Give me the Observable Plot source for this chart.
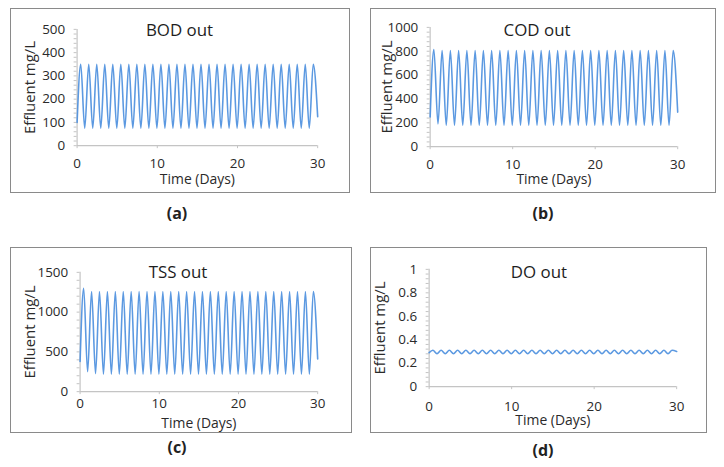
<!DOCTYPE html>
<html>
<head>
<meta charset="utf-8">
<script src="https://cdn.jsdelivr.net/npm/d3@7"></script>
<script src="https://cdn.jsdelivr.net/npm/@observablehq/plot@0.6"></script>
<style>
  body { margin: 0; background: #fff; font-family: "Open Sans", sans-serif; }
  #wrap { position: relative; width: 724px; height: 467px; background: #fff; overflow: hidden; }
  .box { position: absolute; border: 1.5px solid #8a8a8a; box-sizing: border-box; }
  .box svg { position: absolute; left: 0; top: 0; }
  .tag { position: absolute; font-weight: bold; font-size: 16px; color: #222; transform: translate(-50%, -50%); }
</style>
</head>
<body>
<div id="wrap"></div>
<script>
// Shared timeline of peaks / troughs (days)
const times = [0,
  0.45,0.95, 1.45,1.95, 2.45,2.95, 3.45,3.95, 4.45,4.95, 5.45,5.95, 6.45,6.95, 7.45,7.95, 8.45,8.95, 9.45,9.95,
  10.45,10.95, 11.45,11.95, 12.45,12.95, 13.45,13.95, 14.45,14.95, 15.45,15.95, 16.45,16.95, 17.45,17.95, 18.45,18.95, 19.45,19.95,
  20.45,20.95, 21.45,21.95, 22.45,22.95, 23.45,23.95, 24.45,24.95, 25.45,25.95, 26.45,26.95, 27.45,27.95, 28.45,28.95,
  29.45, 30];

const bodOut = [100,
  350,75, 350,75, 350,75, 350,75, 350,75, 350,75, 350,75, 350,75, 350,75, 350,75,
  350,75, 350,75, 350,75, 350,75, 350,75, 350,75, 350,75, 350,75, 350,75, 350,75,
  350,75, 350,75, 350,75, 350,75, 350,75, 350,75, 350,75, 350,75, 350,75,
  350, 125];

const codOut = [250,
  815,190, 805,180, 805,180, 805,180, 805,180, 805,180, 805,180, 805,180, 805,180, 805,180,
  805,180, 805,180, 805,180, 805,180, 805,180, 805,180, 805,180, 805,180, 805,180, 805,180,
  805,180, 805,180, 805,180, 805,180, 805,180, 805,180, 805,180, 805,180, 805,180,
  805, 290];

const tssOut = [380,
  1300,250, 1260,225, 1260,220, 1260,220, 1260,220, 1260,220, 1260,220, 1260,220, 1260,220, 1260,220,
  1260,220, 1260,220, 1260,220, 1260,220, 1260,220, 1260,220, 1260,220, 1260,220, 1260,220, 1260,220,
  1260,220, 1260,220, 1260,220, 1260,220, 1260,220, 1260,220, 1260,220, 1260,220, 1260,220,
  1260, 410];

const doOut = [0.29,
  0.31,0.28, 0.31,0.28, 0.31,0.28, 0.31,0.28, 0.31,0.28, 0.31,0.28, 0.31,0.28, 0.31,0.28, 0.31,0.28, 0.31,0.28,
  0.31,0.28, 0.31,0.28, 0.31,0.28, 0.31,0.28, 0.31,0.28, 0.31,0.28, 0.31,0.28, 0.31,0.28, 0.31,0.28, 0.31,0.28,
  0.31,0.28, 0.31,0.28, 0.31,0.28, 0.31,0.28, 0.31,0.28, 0.31,0.28, 0.31,0.28, 0.31,0.28, 0.31,0.28,
  0.31, 0.30];

const xTicks = [0, 10, 20, 30];
const bodTicks = [0, 100, 200, 300, 400, 500];
const codTicks = [0, 200, 400, 600, 800, 1000];
const tssTicks = [0, 500, 1000, 1500];
const doTicks = [0, 0.2, 0.4, 0.6, 0.8, 1];
const bodMinor = d3.range(0, 501, 20);
const codMinor = d3.range(0, 1001, 40);
const tssMinor = d3.range(0, 1501, 100);
const doMinor = d3.range(0, 1.001, 0.04);

const titles = ["BOD out", "COD out", "TSS out", "DO out"];
const tags = ["(a)", "(b)", "(c)", "(d)"];
const yLabel = "Effluent mg/L";
const xLabel = "Time (Days)";

const panels = [
  {vals: bodOut, ticks: bodTicks, minor: bodMinor, max: 500, box: [10, 8, 340, 185], m: [21, 31, 47, 67], tdx: -18, tdy: 1, ydx: -47, xdy: 34, tp: 10, tag: [177, 213]},
  {vals: codOut, ticks: codTicks, minor: codMinor, max: 1000, box: [370, 8, 346, 185], m: [19, 37, 46, 60], tdx: -17, tdy: 3, ydx: -43, xdy: 33, tp: 10, tag: [543, 213]},
  {vals: tssOut, ticks: tssTicks, minor: tssMinor, max: 1500, box: [10, 247, 342, 186], m: [25, 33, 41, 70], tdx: -21, tdy: 0, ydx: -50, xdy: 32.5, tp: 4, tag: [177, 447]},
  {vals: doOut, ticks: doTicks, minor: doMinor, max: 1, box: [370, 247, 337, 186], m: [22, 29, 46, 59], tdx: -14, tdy: 3, ydx: -49, xdy: 34, tp: 12, tag: [543, 450]}
];

const wrap = document.getElementById("wrap");
panels.forEach((p, i) => {
  const data = times.map((t, j) => ({t, v: p.vals[j]}));
  const [bx, by, bw, bh] = p.box;
  const [mt, mr, mb, ml] = p.m;
  const chart = Plot.plot({
    width: bw, height: bh,
    marginTop: mt, marginRight: mr, marginBottom: mb, marginLeft: ml,
    style: {fontFamily: "'Open Sans', sans-serif", fontSize: "13px", color: "#333", background: "transparent"},
    x: {domain: [0, 30], axis: null},
    y: {domain: [0, p.max], axis: null},
    marks: [
      Plot.axisY(p.minor, {tickSize: 3, text: null, label: null, stroke: "#c4c4c4"}),
      Plot.axisY(p.ticks, {tickSize: 0, tickPadding: 12, fontSize: 13.5, fill: "#2a2a2a", label: null, tickFormat: d => String(d)}),
      Plot.axisX(xTicks, {tickSize: 3, tickPadding: p.tp, fontSize: 13.5, fill: "#2a2a2a", stroke: "#c4c4c4", label: null, tickFormat: d => String(d)}),
      Plot.ruleX([0], {stroke: "#c4c4c4", strokeWidth: 1.2}),
      Plot.ruleY([0], {stroke: "#c4c4c4", strokeWidth: 1.2}),
      Plot.line(data, {x: "t", y: "v", curve: "monotone-x", stroke: "#4a8ede", strokeWidth: 1.6, strokeOpacity: 0.9}),
      Plot.text([titles[i]], {frameAnchor: "top", dx: p.tdx, dy: p.tdy, lineAnchor: "middle", fontSize: 17, fill: "#1e1e1e"}),
      Plot.text([yLabel], {frameAnchor: "left", dx: p.ydx, rotate: -90, textAnchor: "middle", lineAnchor: "middle", fontSize: 15, fill: "#2a2a2a"}),
      Plot.text([xLabel], {frameAnchor: "bottom", dy: p.xdy, lineAnchor: "middle", fontSize: 14, fill: "#2a2a2a"})
    ]
  });
  const box = document.createElement("div");
  box.className = "box";
  box.style.left = bx + "px"; box.style.top = by + "px";
  box.style.width = bw + "px"; box.style.height = bh + "px";
  chart.style.left = "-1.5px"; chart.style.top = "-1.5px";
  chart.style.overflow = "visible";
  box.appendChild(chart);
  wrap.appendChild(box);
  const tag = document.createElement("div");
  tag.className = "tag";
  tag.textContent = tags[i];
  tag.style.left = p.tag[0] + "px"; tag.style.top = p.tag[1] + "px";
  wrap.appendChild(tag);
});
</script>
</body>
</html>
